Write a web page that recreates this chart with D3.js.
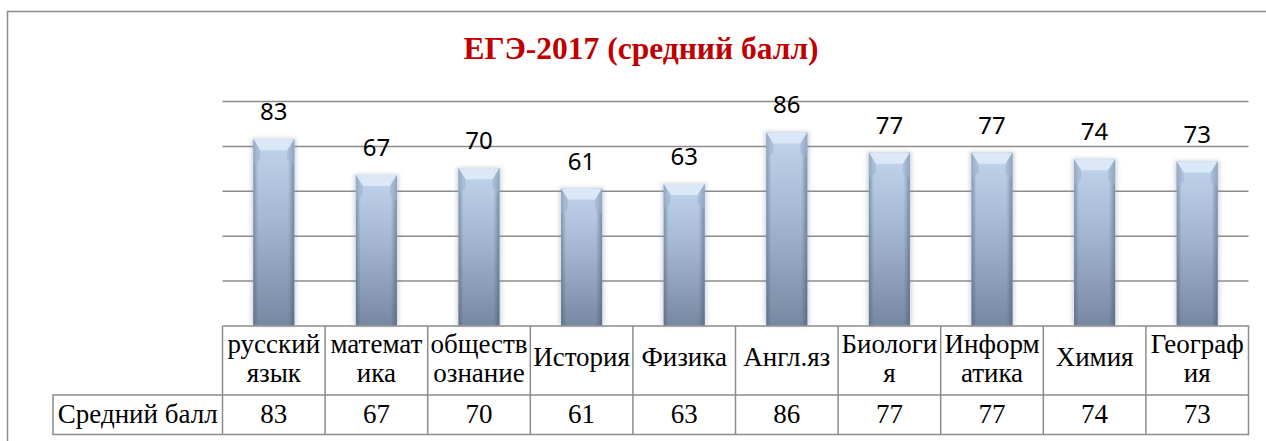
<!DOCTYPE html>
<html>

<head>
    <meta charset="UTF-8" />
    <title>ЕГЭ-2017</title>
    <style>
        body {
            margin: 0;
            padding: 0;
            background: #fff;
            overflow: hidden;
        }
    </style>
</head>

<body>
    <div class="container"></div>

    <script src="https://cdnjs.cloudflare.com/ajax/libs/d3/7.8.5/d3.min.js"></script>
    <script>
        // data
        const subjects = ["русский язык", "математика", "обществознание", "История", "Физика",
            "Англ.яз", "Биология", "Информатика", "Химия", "География"];
        // how each name is broken in the table cell
        const subjectLines = [["русский", "язык"], ["математ", "ика"], ["обществ", "ознание"], ["История"],
            ["Физика"], ["Англ.яз"], ["Биологи", "я"], ["Информ", "атика"], ["Химия"], ["Географ", "ия"]];
        const scores = [83, 67, 70, 61, 63, 86, 77, 77, 74, 73];
        const yTicks = [20, 40, 60, 80, 100];
        const seriesName = "Средний балл";
        const title = "ЕГЭ-2017 (средний балл)";

        const w = 1266;
        const h = 441;
        const plotL = 222.5, plotR = 1248.5, plotT = 101, base = 325.5;
        const rowTop = 326, rowMid = 395, rowBot = 434.5, nameLeft = 53;

        const svg = d3.select(".container").append('svg')
            .attr('width', w)
            .attr('height', h)
            .style('display', 'block');

        const defs = svg.append('defs');
        const vg = defs.append('linearGradient').attr('id', 'barV')
            .attr('x1', 0).attr('y1', 0).attr('x2', 0).attr('y2', 1);
        vg.append('stop').attr('offset', '0%').attr('stop-color', '#c8dcf4');
        vg.append('stop').attr('offset', '45%').attr('stop-color', '#a9bcd6');
        vg.append('stop').attr('offset', '100%').attr('stop-color', '#7a8ca5');

        const hg = defs.append('linearGradient').attr('id', 'barH')
            .attr('x1', 0).attr('y1', 0).attr('x2', 1).attr('y2', 0);
        hg.append('stop').attr('offset', '0%').attr('stop-color', '#3c4d66').attr('stop-opacity', 0.45);
        hg.append('stop').attr('offset', '12%').attr('stop-color', '#3c4d66').attr('stop-opacity', 0.05);
        hg.append('stop').attr('offset', '85%').attr('stop-color', '#3c4d66').attr('stop-opacity', 0.05);
        hg.append('stop').attr('offset', '100%').attr('stop-color', '#3c4d66').attr('stop-opacity', 0.5);

        const blur = defs.append('filter').attr('id', 'soft').attr('x', '-30%').attr('y', '-10%')
            .attr('width', '160%').attr('height', '120%');
        blur.append('feGaussianBlur').attr('stdDeviation', 2);

        // outer frame
        svg.append('rect')
            .attr('x', 7.5).attr('y', 11.5)
            .attr('width', w + 20).attr('height', h + 20)
            .attr('fill', 'none')
            .attr('stroke', '#8c8c8c')
            .attr('stroke-width', 1.5);

        svg.append('text')
            .attr('x', 641)
            .attr('y', 59)
            .attr('text-anchor', 'middle')
            .attr('font-family', "'Liberation Serif', 'Times New Roman', serif")
            .attr('font-weight', 'bold')
            .attr('font-size', 31.5)
            .attr('fill', '#c00000')
            .text(title);

        const x = d3.scaleBand().domain(subjects).range([plotL, plotR]).padding(0);
        const y = d3.scaleLinear().domain([0, 100]).range([base, plotT]);

        // gridlines
        svg.append('g')
            .attr('transform', `translate(${plotL},0)`)
            .call(d3.axisLeft(y).tickValues(yTicks).tickSize(-(plotR - plotL)).tickFormat(''))
            .call(g => g.select('.domain').remove())
            .call(g => g.selectAll('.tick line').attr('stroke', '#8c8c8c').attr('stroke-width', 1.5));

        const bw = 41;
        const bars = svg.append('g').selectAll('g').data(subjects).join('g')
            .attr('transform', d => `translate(${x(d) + x.bandwidth() / 2 - bw / 2},0)`);

        bars.append('rect')
            .attr('x', -2).attr('y', (d, i) => y(scores[i]) - 1)
            .attr('width', bw + 4).attr('height', (d, i) => base - y(scores[i]) + 1)
            .attr('fill', '#7f8fa6').attr('opacity', 0.35)
            .attr('filter', 'url(#soft)');
        bars.append('rect')
            .attr('y', (d, i) => y(scores[i]))
            .attr('width', bw).attr('height', (d, i) => base - y(scores[i]))
            .attr('fill', 'url(#barV)');
        bars.append('rect')
            .attr('y', (d, i) => y(scores[i]))
            .attr('width', bw).attr('height', (d, i) => base - y(scores[i]))
            .attr('fill', 'url(#barH)');
        // bevelled cap
        bars.append('path')
            .attr('d', (d, i) => {
                const t = y(scores[i]);
                return `M0,${t}H${bw}L${bw - 7},${t + 11}H7Z`;
            })
            .attr('fill', '#dbe8f8');
        bars.append('path')
            .attr('d', (d, i) => {
                const t = y(scores[i]);
                return `M0,${t}L7,${t + 11}V${t + 20}L0,${t + 26}Z M${bw},${t}L${bw - 7},${t + 11}V${t + 20}L${bw},${t + 26}Z`;
            })
            .attr('fill', '#9fb3cf').attr('opacity', 0.6);

        // value labels
        svg.append('g').selectAll('text').data(subjects).join('text')
            .attr('x', d => x(d) + x.bandwidth() / 2)
            .attr('y', (d, i) => y(scores[i]) - 19)
            .attr('text-anchor', 'middle')
            .attr('font-family', "'Noto Sans', 'Open Sans', sans-serif")
            .attr('font-size', 24)
            .attr('fill', '#000')
            .text((d, i) => scores[i]);

        // data table
        const tbl = svg.append('g')
            .attr('stroke', '#8c8c8c').attr('stroke-width', 1.5).attr('fill', 'none');
        tbl.append('path').attr('d', `M${plotL},${rowTop}H${plotR}V${rowBot}H${nameLeft}V${rowMid}H${plotR}`);
        tbl.selectAll('line').data(subjects).join('line')
            .attr('x1', d => x(d)).attr('x2', d => x(d))
            .attr('y1', rowTop).attr('y2', rowBot);

        const serif = "'Liberation Serif', 'Times New Roman', serif";
        const fs = 27;
        const cells = svg.append('g').selectAll('text').data(subjects).join('text')
            .attr('x', d => x(d) + x.bandwidth() / 2)
            .attr('text-anchor', 'middle')
            .attr('font-family', serif)
            .attr('font-size', fs)
            .attr('fill', '#000');
        cells.each(function (d, i) {
            const lines = subjectLines[i];
            const y0 = lines.length === 1 ? 366 : 353;
            d3.select(this).selectAll('tspan').data(lines).join('tspan')
                .attr('x', x(d) + x.bandwidth() / 2)
                .attr('y', (l, j) => y0 + j * 29)
                .text(l => l);
        });

        svg.append('g').selectAll('text').data(subjects).join('text')
            .attr('x', d => x(d) + x.bandwidth() / 2)
            .attr('y', 423)
            .attr('text-anchor', 'middle')
            .attr('font-family', serif)
            .attr('font-size', fs)
            .text((d, i) => scores[i]);

        svg.append('text')
            .attr('x', (nameLeft + plotL) / 2)
            .attr('y', 423)
            .attr('text-anchor', 'middle')
            .attr('font-family', serif)
            .attr('font-size', fs)
            .text(seriesName);
    </script>
</body>

</html>
